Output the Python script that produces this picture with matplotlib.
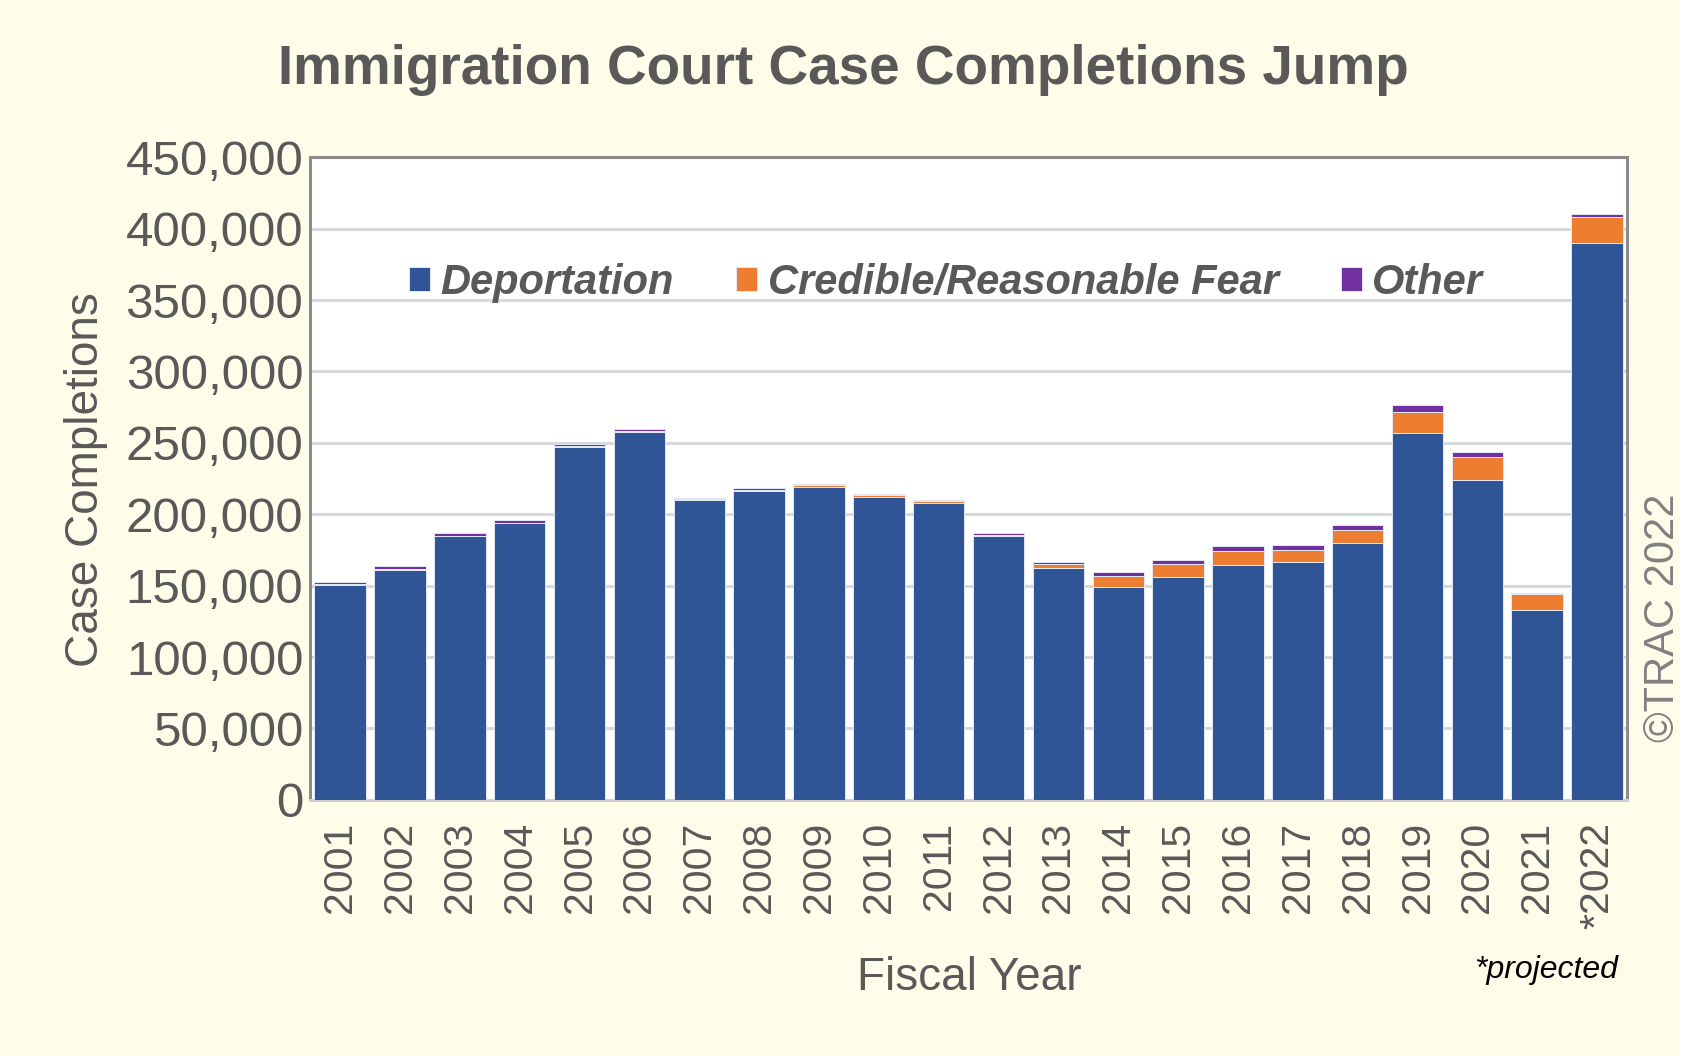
import matplotlib
matplotlib.use("Agg")
import matplotlib.pyplot as plt
from matplotlib.patches import Rectangle
from matplotlib.ticker import FuncFormatter

plt.rcParams["font.family"] = ["Liberation Sans", "DejaVu Sans"]

YEARS = ["2001", "2002", "2003", "2004", "2005", "2006", "2007", "2008", "2009",
         "2010", "2011", "2012", "2013", "2014", "2015", "2016", "2017", "2018",
         "2019", "2020", "2021", "*2022"]

DEPORTATION = [150500, 161000, 184600, 194000, 247300, 257700, 209800, 216300,
               219100, 212200, 207700, 184500, 162600, 149300, 156300, 164700,
               166800, 180000, 256800, 223900, 133200, 390000]
FEAR = [700, 800, 300, 200, 200, 600, 600, 800, 1200, 1200, 1300, 1100, 2600,
        7500, 8900, 9800, 8400, 9000, 15100, 16500, 10700, 18000]
OTHER = [1500, 1700, 2000, 1800, 2000, 1700, 1000, 1300, 1100, 800, 1000, 1300,
         1500, 3000, 3000, 3000, 3400, 3500, 4400, 3100, 1200, 2000]

YTICKS = [0, 50000, 100000, 150000, 200000, 250000, 300000, 350000, 400000, 450000]

BLUE = "#2F5597"
ORANGE = "#ED7D31"
PURPLE = "#7030A0"
TXT = "#595959"
BG = "#FFFDE9"

fig = plt.figure(figsize=(16.86, 10.63), dpi=100)
fig.patch.set_facecolor("white")
fig.patches.append(Rectangle((0, 0.0075), 0.9965, 0.9925, transform=fig.transFigure,
                             facecolor=BG, edgecolor="none", zorder=-10))

ax = fig.add_axes([0.184, 0.2476, 0.781, 0.6044])
ax.set_facecolor("white")

x = list(range(len(YEARS)))
bottom2 = [d + f for d, f in zip(DEPORTATION, FEAR)]
kw = dict(width=0.86, edgecolor="#E4E8F4", linewidth=0.7, zorder=3)
ax.bar(x, DEPORTATION, color=BLUE, label="Deportation", **kw)
ax.bar(x, FEAR, bottom=DEPORTATION, color=ORANGE, label="Credible/Reasonable Fear", **kw)
ax.bar(x, OTHER, bottom=bottom2, color=PURPLE, label="Other", **kw)

ax.set_xlim(-0.5, len(YEARS) - 0.5)
ax.set_ylim(0, 450000)
ax.set_yticks(YTICKS)
ax.yaxis.set_major_formatter(FuncFormatter(lambda v, p: f"{int(v):,}"))
ax.grid(axis="y", color="#D9D9D9", linewidth=2.2, zorder=0)
ax.set_axisbelow(True)

ax.set_xticks(x)
ax.set_xticklabels(YEARS, rotation=90, va="top", ha="center")
ax.tick_params(axis="x", length=0, pad=16, labelsize=29.5, labelcolor=TXT)
ax.tick_params(axis="y", length=0, pad=5, labelsize=35.5, labelcolor=TXT)

for side in ("left", "top", "right"):
    ax.spines[side].set_color("#8C8C8C")
    ax.spines[side].set_linewidth(2.2)
ax.spines["bottom"].set_color("#CFCFCF")
ax.spines["bottom"].set_linewidth(2.2)

leg = ax.legend(loc="center", bbox_to_anchor=(0.483, 0.805), ncol=3, frameon=False,
                handlelength=0.5, handleheight=0.5, handletextpad=0.25,
                columnspacing=1.5, borderaxespad=0,
                prop=dict(family="Liberation Sans", size=30, weight="bold", style="italic"))
for t in leg.get_texts():
    t.set_color(TXT)

fig.text(0.5, 0.934, "Immigration Court Case Completions Jump", ha="center", va="center",
         fontsize=39.5, fontweight="bold", color=TXT)
fig.text(0.051, 0.549, "Case Completions", rotation=90, ha="center", va="center",
         fontsize=33, color=TXT)
fig.text(0.575, 0.080, "Fiscal Year", ha="center", va="center", fontsize=33, color=TXT)
fig.text(0.917, 0.0875, "*projected", ha="center", va="center", fontsize=23,
         style="italic", color="black")
fig.text(0.9865, 0.419, "\u00a9TRAC 2022", rotation=90, ha="center", va="center",
         fontsize=30, color="#808080")

fig.savefig("out.png", dpi=100, facecolor=fig.get_facecolor())
